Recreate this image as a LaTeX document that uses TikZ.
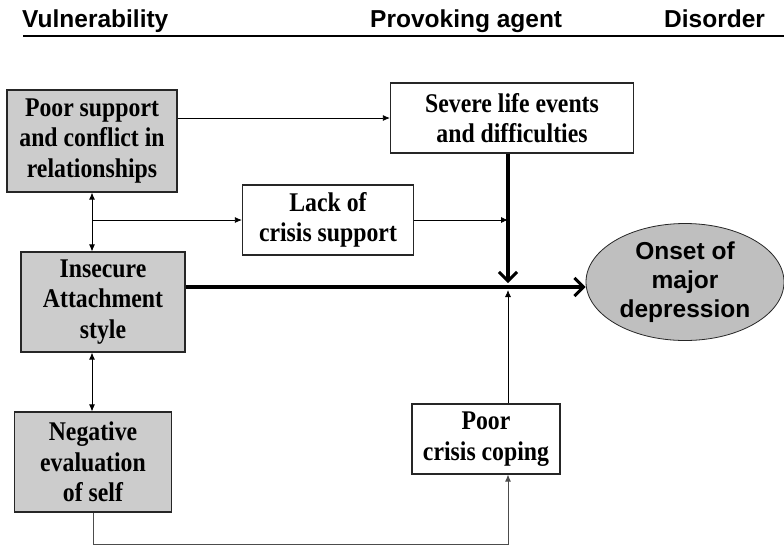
\documentclass[tikz,border=0pt]{standalone}
\usepackage{fontspec}
\setmainfont{Liberation Serif}
\newfontfamily\boxfont[FakeStretch=0.88]{Liberation Serif}
\newfontfamily\headfont{Liberation Sans}
\usetikzlibrary{arrows.meta,shapes.geometric}
\begin{document}
\begin{tikzpicture}[x=1pt,y=-1pt,
  greybox/.style={draw=black!85, line width=1.2pt, fill=black!20, align=center, inner sep=0pt,
    font=\boxfont\bfseries\fontsize{27}{30.5}\selectfont},
  whitebox/.style={greybox, fill=white},
  weakarrow/.style={-{Latex[length=7pt,width=6pt]}, line width=0.8pt},
  bothways/.style={weakarrow, {Latex[length=7pt,width=6pt]}-{Latex[length=7pt,width=6pt]}},
  strongarrow/.style={-{Straight Barb[length=9pt,width=18pt,line width=3pt]}, line width=3.3pt},
  head/.style={anchor=base west, inner sep=0pt, font=\headfont\bfseries\fontsize{24.5}{28}\selectfont}]
\useasboundingbox (0,0) rectangle (784,547);
% column titles
\node[head] (vul) at (22,27) {Vulnerability};
\node[head] (prov) at (370,27) {Provoking agent};
\node[head] (dis) at (664,27) {Disorder};
\draw[line width=1.3pt] (23,36) -- (784,36);
% vulnerability boxes
\node[greybox, minimum width=170pt, minimum height=102pt] (poor) at (92,141) {Poor support\\and conflict in\\relationships};
\node[greybox, minimum width=164pt, minimum height=100pt] (insecure) at (103,302) {Insecure\\Attachment\\style};
\node[greybox, minimum width=157pt, minimum height=100pt] (negative) at (93,462) {Negative\\evaluation\\of self};
% provoking agents
\node[whitebox, minimum width=243pt, minimum height=70pt] (severe) at (512,118) {Severe life events\\and difficulties};
\node[whitebox, minimum width=171pt, minimum height=70pt] (lack) at (328,220) {Lack of\\crisis support};
\node[whitebox, minimum width=148pt, minimum height=70pt] (coping) at (486,439) {Poor\\crisis coping};
% disorder
\node[ellipse, draw=black!85, line width=0.8pt, fill=black!25, minimum width=198pt, minimum height=117pt,
  inner sep=0pt, align=center, font=\headfont\bfseries\fontsize{24.5}{29}\selectfont] (onset) at (685,282) {Onset of\\major\\depression};
\coordinate (J) at (508,287);
\coordinate (br) at (poor.south |- lack.west);
% links
\draw[weakarrow] (poor.east |- severe.west) -- (severe.west);
\draw[bothways] (poor.south) -- (poor.south |- insecure.north);
\draw[bothways] (insecure.south -| poor.south) -- (negative.north -| poor.south);
\draw[weakarrow] (br) -- (lack.west);
\draw[weakarrow] (lack.east) -- (lack.east -| J);
\draw[strongarrow, shorten >=4pt] (severe.south -| J) -- (J);
\draw[strongarrow] (insecure.east |- J) -- (onset.west |- J);
\draw[weakarrow, shorten >=3pt] (coping.north -| J) -- (J);
\draw[weakarrow, draw=black!70] (negative.south) -- ++(0,32) -| (coping.south -| J);
\end{tikzpicture}
\end{document}
